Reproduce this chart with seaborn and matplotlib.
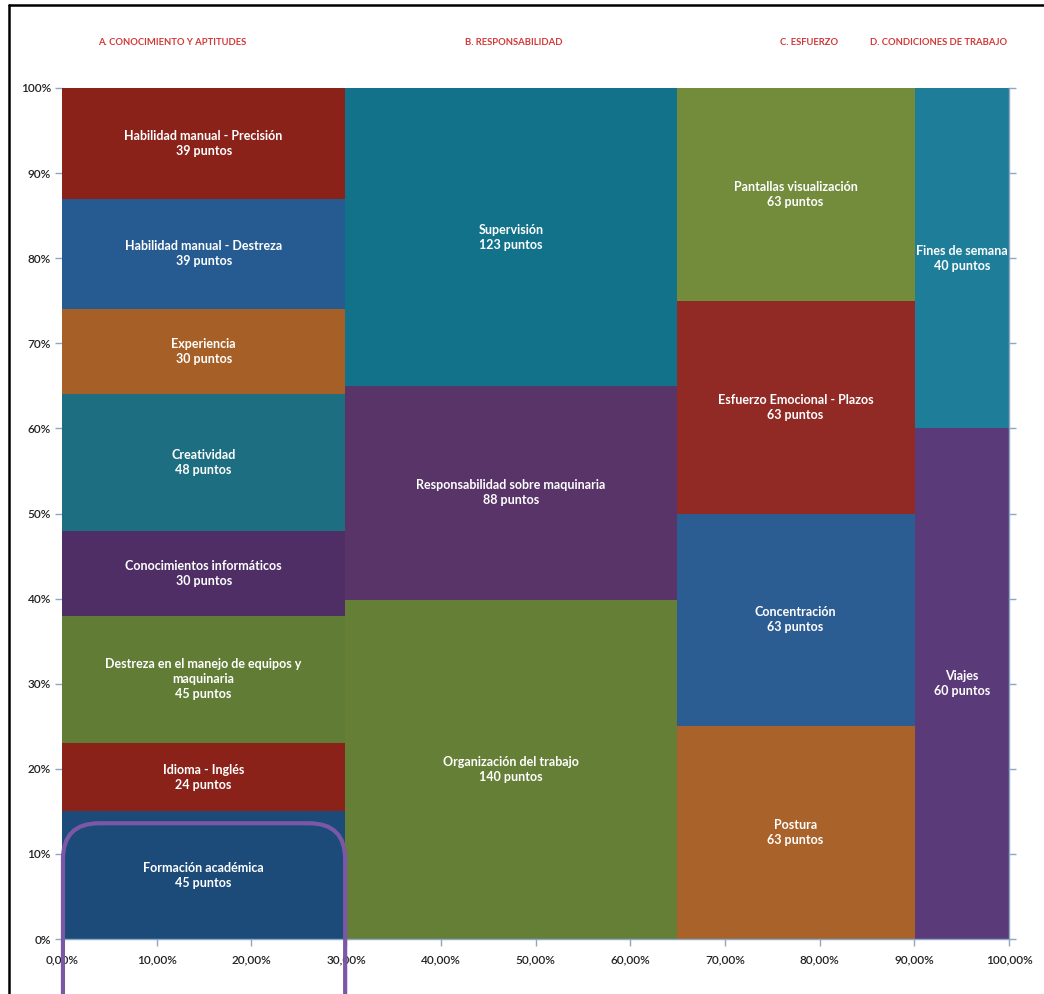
import numpy as np
import pandas as pd
import seaborn as sns
import matplotlib.pyplot as plt
from matplotlib.patches import FancyBboxPatch
from matplotlib.lines import Line2D
from matplotlib.ticker import FuncFormatter, MultipleLocator

# Factor groups (columns of the Marimekko) and their sub-factors, bottom to top
groups = ["A. CONOCIMIENTO Y APTITUDES", "B. RESPONSABILIDAD",
          "C. ESFUERZO", "D. CONDICIONES DE TRABAJO"]

factors_a = ["Formación académica", "Idioma - Inglés",
             "Destreza en el manejo de equipos y\nmaquinaria",
             "Conocimientos informáticos", "Creatividad", "Experiencia",
             "Habilidad manual - Destreza", "Habilidad manual - Precisión"]
points_a = [45, 24, 45, 30, 48, 30, 39, 39]
colors_a = ["#1C4B7A", "#8A2219", "#607C35", "#4F2E66",
            "#1D6E80", "#A65F26", "#255B90", "#8A2219"]

factors_b = ["Organización del trabajo", "Responsabilidad sobre maquinaria",
             "Supervisión"]
points_b = [140, 88, 123]
colors_b = ["#667F37", "#583468", "#11728A"]

factors_c = ["Postura", "Concentración", "Esfuerzo Emocional - Plazos",
             "Pantallas visualización"]
points_c = [63, 63, 63, 63]
colors_c = ["#A8622A", "#2B5C92", "#912A25", "#728C3C"]

factors_d = ["Viajes", "Fines de semana"]
points_d = [60, 40]
colors_d = ["#5B3A79", "#1E7E9A"]

# Group title anchors (x in % of the horizontal axis)
title_x = [11.6, 47.7, 78.9, 92.6]

rows = []
for g, names, pts, cols in zip(groups,
                               [factors_a, factors_b, factors_c, factors_d],
                               [points_a, points_b, points_c, points_d],
                               [colors_a, colors_b, colors_c, colors_d]):
    for n, p, c in zip(names, pts, cols):
        rows.append({"group": g, "factor": n, "points": p, "color": c})
df = pd.DataFrame(rows)

grand_total = df["points"].sum()
group_tot = df.groupby("group", sort=False)["points"].sum()
group_w = group_tot / grand_total * 100
group_x0 = group_w.cumsum() - group_w

df["height"] = df["points"] / df["group"].map(group_tot) * 100
df["bottom"] = df.groupby("group", sort=False)["height"].cumsum() - df["height"]
df["x0"] = df["group"].map(group_x0)
df["width"] = df["group"].map(group_w)

sns.set_theme(style="white")
plt.rcParams["font.family"] = ["Lato", "DejaVu Sans"]

fig = plt.figure(figsize=(10.44, 9.94), dpi=100)
ax = fig.add_axes([62 / 1044, 55 / 994, 947 / 1044, 851 / 994])

ax.bar(df["x0"], df["height"], width=df["width"], bottom=df["bottom"],
       align="edge", color=df["color"], linewidth=0)

for _, r in df.iterrows():
    ax.text(r["x0"] + r["width"] / 2, r["bottom"] + r["height"] / 2,
            f"{r['factor']}\n{r['points']} puntos",
            ha="center", va="center", color="white", fontsize=9,
            fontweight="bold", linespacing=1.3)

for g, tx in zip(groups, title_x):
    ax.text(tx, 105.3, g, ha="center", va="center", color="#D23838",
            fontsize=6.8, fontweight="bold")

ax.set_xlim(0, 100)
ax.set_ylim(0, 100)
ax.xaxis.set_major_locator(MultipleLocator(10))
ax.yaxis.set_major_locator(MultipleLocator(10))
ax.xaxis.set_major_formatter(FuncFormatter(lambda v, _: f"{v:.2f}%".replace(".", ",")))
ax.yaxis.set_major_formatter(FuncFormatter(lambda v, _: f"{v:.0f}%"))
ax.tick_params(axis="both", which="major", length=5, width=1,
               color="#8EA8C3", labelsize=8.5, labelcolor="#222222",
               left=True, bottom=True, right=True, direction="out")
ax.tick_params(axis="y", labelright=False, pad=3)
ax.tick_params(axis="x", pad=6)
for lbl in ax.get_xticklabels() + ax.get_yticklabels():
    lbl.set_fontweight("semibold")

ax.spines["top"].set_visible(False)
for side in ["left", "bottom", "right"]:
    ax.spines[side].set_color("#8EA8C3")
    ax.spines[side].set_linewidth(1)
ax.spines["left"].set_visible(False)

# Highlight frame around the first factor of group A
fig.canvas.draw()
dpi = fig.dpi
(x0p, y0p) = ax.transData.transform((0.1, -30))
(x1p, y1p) = ax.transData.transform((29.9, 13.6))
box = FancyBboxPatch((x0p / dpi, y0p / dpi), (x1p - x0p) / dpi, (y1p - y0p) / dpi,
                     boxstyle="round,pad=0,rounding_size=0.36",
                     transform=fig.dpi_scale_trans, fill=False,
                     edgecolor="#7A58A6", linewidth=3, clip_on=False)
fig.add_artist(box)

# Outer frame lines (top and left)
fig.add_artist(Line2D([9 / 1044, 1.0], [1 - 4.5 / 994, 1 - 4.5 / 994],
                      transform=fig.transFigure, color="black", linewidth=1.8))
fig.add_artist(Line2D([9 / 1044, 9 / 1044], [0, 1 - 4.5 / 994],
                      transform=fig.transFigure, color="black", linewidth=1.8))

fig.savefig("out.png", dpi=100)
